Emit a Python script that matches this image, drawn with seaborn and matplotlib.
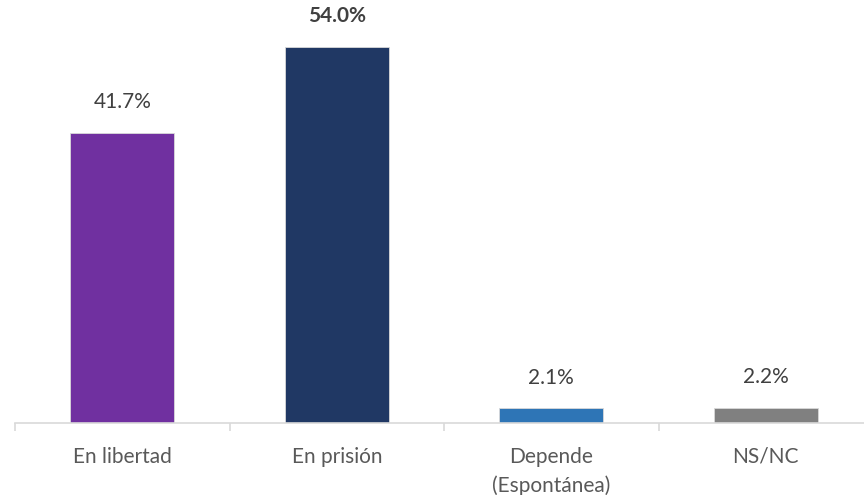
import matplotlib.pyplot as plt
import pandas as pd
import seaborn as sns

# Data
categories = ["En libertad", "En prisión", "Depende\n(Espontánea)", "NS/NC"]
values = [41.7, 54.0, 2.1, 2.2]
colors = ["#7030A0", "#203864", "#2E75B6", "#808080"]

df = pd.DataFrame({"cat": categories, "value": values})

sns.set_theme(style="white")
plt.rcParams["font.family"] = ["Lato", "DejaVu Sans"]

fig = plt.figure(figsize=(8.64, 4.95), dpi=100)
ax = fig.add_axes([15 / 864, 1 - 423 / 495, 858 / 864, 423 / 495])

sns.barplot(data=df, x="cat", y="value", hue="cat", palette=colors, legend=False,
            width=0.485, saturation=1, edgecolor="#d9d9d9", linewidth=0.6, ax=ax)

ax.set_xlim(-0.5, 3.5)
ax.set_ylim(0, 60.75)

# Data labels
for i, v in enumerate(values):
    ax.annotate(f"{v:.1f}%", (i, v), xytext=(0, 22), textcoords="offset points",
                ha="center", va="center", fontsize=15, color="#404040",
                fontweight="bold" if v == max(values) else "normal")

# Axes styling
for side in ["top", "right", "left"]:
    ax.spines[side].set_visible(False)
ax.spines["bottom"].set_color("#d9d9d9")
ax.spines["bottom"].set_linewidth(1.2)
ax.set_yticks([])
ax.set_xlabel("")
ax.set_ylabel("")

ax.set_xticks([0, 1, 2, 3])
ax.set_xticklabels(categories, fontsize=15, color="#595959", linespacing=1.5)
ax.tick_params(axis="x", length=0, pad=17)
ax.set_xticks([-0.5, 0.5, 1.5, 2.5, 3.5], minor=True)
ax.tick_params(axis="x", which="minor", length=6, width=1.2, color="#d9d9d9", bottom=True)

fig.savefig("out.png", dpi=100)
